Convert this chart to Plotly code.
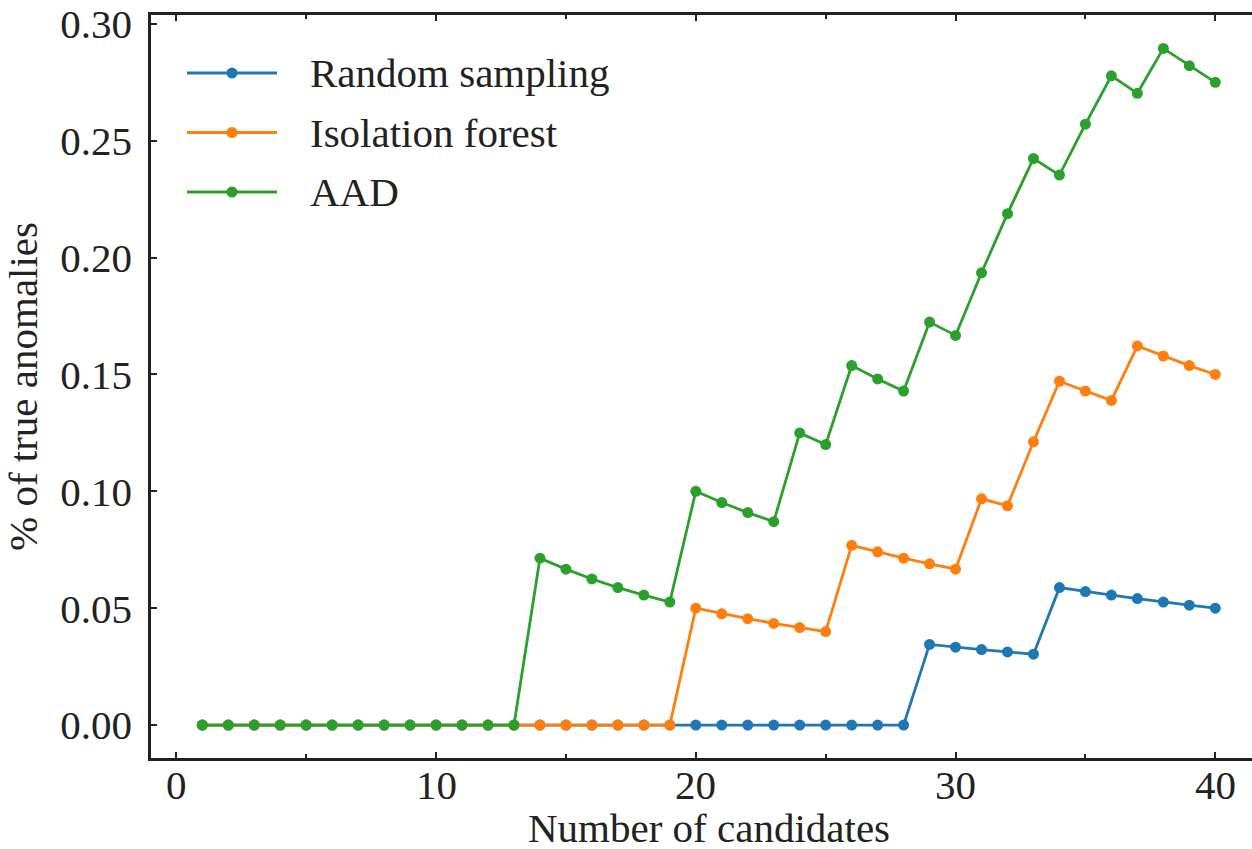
import plotly.graph_objects as go

candidates = list(range(1, 41))
series_names = ["Random sampling", "Isolation forest", "AAD"]
series_colors = ["#1f77b4", "#ff7f0e", "#2ca02c"]

random_sampling = [0.0] * 28 + [0.0345, 0.0333, 0.0323, 0.0313, 0.0303,
                                0.0588, 0.0571, 0.0556, 0.0541, 0.0526, 0.0513, 0.0500]
isolation_forest = [0.0] * 19 + [0.0500, 0.0476, 0.0455, 0.0435, 0.0417, 0.0400,
                                 0.0769, 0.0741, 0.0714, 0.0690, 0.0667,
                                 0.0968, 0.0938, 0.1212, 0.1471, 0.1429, 0.1389,
                                 0.1622, 0.1579, 0.1538, 0.1500]
aad = [0.0] * 13 + [0.0714, 0.0667, 0.0625, 0.0588, 0.0556, 0.0526,
                    0.1000, 0.0952, 0.0909, 0.0870, 0.1250, 0.1200,
                    0.1538, 0.1481, 0.1429, 0.1724, 0.1667, 0.1935,
                    0.2188, 0.2424, 0.2353, 0.2571, 0.2778, 0.2703,
                    0.2895, 0.2821, 0.2750]
series_values = [random_sampling, isolation_forest, aad]

x_ticks = [0, 10, 20, 30, 40]
x_tick_labels = ["0", "10", "20", "30", "40"]
y_ticks = [0.00, 0.05, 0.10, 0.15, 0.20, 0.25, 0.30]
y_tick_labels = ["0.00", "0.05", "0.10", "0.15", "0.20", "0.25", "0.30"]

FONT = "Liberation Serif, Times New Roman, serif"
FS = 41
W, H = 1252, 849
ML, MR, MT, MB = 151, 0, 15, 91

fig = go.Figure()
for name, vals, col in zip(series_names, series_values, series_colors):
    fig.add_trace(go.Scatter(
        x=candidates, y=vals, mode="lines+markers", name=name,
        line=dict(color=col, width=2.8),
        marker=dict(color=col, size=11, symbol="circle"),
        showlegend=False,
    ))

# custom legend (matplotlib-like long line samples)
pw = W - ML - MR
ph = H - MT - MB
leg_y0 = 73
leg_dy = 59.5
for i, (name, col) in enumerate(zip(series_names, series_colors)):
    yp = 1 - (leg_y0 + i * leg_dy - MT) / ph
    x0 = (187 - ML) / pw
    x1 = (277 - ML) / pw
    fig.add_shape(type="line", xref="paper", yref="paper", x0=x0, x1=x1, y0=yp, y1=yp,
                  line=dict(color=col, width=2.8))
    xc = (232 - ML) / pw
    r = 5.5
    fig.add_shape(type="circle", xref="paper", yref="paper",
                  x0=xc - r / pw, x1=xc + r / pw, y0=yp - r / ph, y1=yp + r / ph,
                  fillcolor=col, line=dict(color=col, width=0))
    fig.add_annotation(xref="paper", yref="paper", x=(308 - ML) / pw, y=yp,
                       text=name, showarrow=False, xanchor="left", yanchor="middle",
                       font=dict(family=FONT, size=FS, color="#222"))

# x tick labels placed close to the axis (matplotlib-like)
for xv, lab in zip(x_ticks, x_tick_labels):
    fig.add_annotation(xref="x", yref="paper", x=xv, y=0, yshift=-27,
                       text=lab, showarrow=False, xanchor="center", yanchor="middle",
                       font=dict(family=FONT, size=FS, color="#222"))

x_lo = -0.974
x_hi = x_lo + pw / 25.975
fig.add_annotation(xref="x", yref="paper", x=20.5, y=0, yshift=-70,
                   text="Number of candidates", showarrow=False,
                   xanchor="center", yanchor="middle",
                   font=dict(family=FONT, size=FS, color="#222"))

fig.update_layout(
    width=W, height=H,
    margin=dict(l=ML, r=MR, t=MT, b=MB),
    plot_bgcolor="white", paper_bgcolor="white",
    font=dict(family=FONT, size=FS, color="#222"),
    xaxis=dict(range=[x_lo, x_hi], tickvals=x_ticks, ticktext=x_tick_labels,
               showticklabels=False,
               ticks="inside", ticklen=6, tickwidth=2,
               tickcolor="#222", showline=True, linecolor="#222", linewidth=2.5,
               mirror="ticks", showgrid=False, zeroline=False,
               minor=dict(dtick=5, tick0=0, ticks="inside", ticklen=4, tickwidth=2,
                          tickcolor="#222", showgrid=False)),
    yaxis=dict(range=[-0.0141, 0.3038], tickvals=y_ticks, ticktext=y_tick_labels,
               ticks="inside", ticklen=6, tickwidth=2, tickcolor="#222",
               showline=True, linecolor="#222", linewidth=2.5, mirror=False,
               showgrid=False, zeroline=False, ticklabelstandoff=8,
               title=dict(text="% of true anomalies", standoff=12,
                          font=dict(family=FONT, size=FS, color="#222")),
               tickfont=dict(family=FONT, size=FS, color="#222")),
)

fig.write_html("out.html")
